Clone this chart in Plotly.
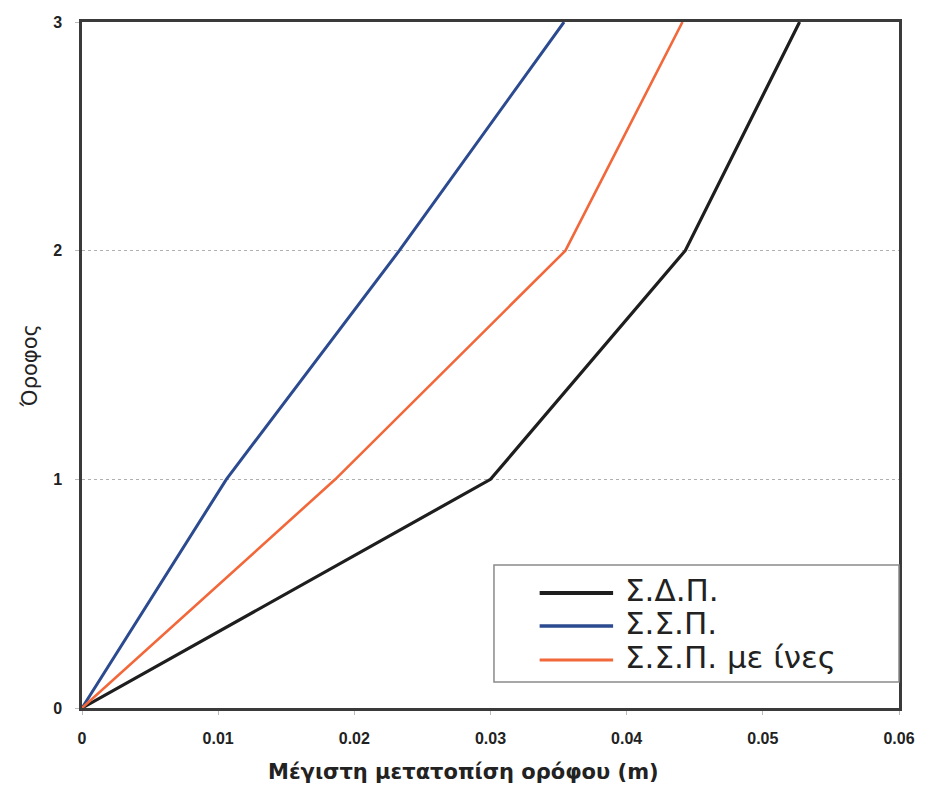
import plotly.graph_objects as go

# Storey levels and peak storey displacement (m) for each structural system
floors = [0, 1, 2, 3]
sdp = [0.0, 0.0300, 0.0443, 0.0527]          # Σ.Δ.Π.
ssp = [0.0, 0.0106, 0.0233, 0.0354]          # Σ.Σ.Π.
ssp_fibres = [0.0, 0.0186, 0.0355, 0.0441]   # Σ.Σ.Π. με ίνες

x_ticks = [0, 0.01, 0.02, 0.03, 0.04, 0.05, 0.06]
x_tick_text = ["0", "0.01", "0.02", "0.03", "0.04", "0.05", "0.06"]
y_ticks = [0, 1, 2, 3]

names = ["Σ.Δ.Π.", "Σ.Σ.Π.", "Σ.Σ.Π. με ίνες"]
colors = ["#1e1e1e", "#2b4a8f", "#f2683a"]
widths = [3.2, 3.0, 2.6]
series = [sdp, ssp, ssp_fibres]

W, H = 927, 788
L, R, T, B = 82, 22, 22, 80
PW, PH = W - L - R, H - T - B


def px(xp):
    return (xp - L) / PW


def py(yp):
    return (H - B - yp) / PH


fig = go.Figure()
for vals, name, c, w in zip(series, names, colors, widths):
    fig.add_trace(go.Scatter(x=vals, y=floors, mode="lines", name=name,
                             line=dict(color=c, width=w), showlegend=False))

tick_font = dict(family="Liberation Sans, Arial", size=16, color="#222", weight="bold")

fig.update_xaxes(range=[0, 0.06], tickvals=x_ticks, ticktext=x_tick_text,
                 showgrid=False, zeroline=False, showline=True, linecolor="#3a3a3a",
                 linewidth=2.5, mirror=True, ticks="outside", ticklen=4,
                 tickcolor="#bbbbbb", tickfont=tick_font, ticklabelstandoff=10)
fig.update_yaxes(range=[0, 3], tickvals=y_ticks, showgrid=True,
                 gridcolor="#b0b0b0", griddash="dot", gridwidth=1,
                 zeroline=False, showline=True, linecolor="#3a3a3a", linewidth=2.5,
                 mirror=True, ticks="outside", ticklen=4, tickcolor="#bbbbbb",
                 tickfont=tick_font, ticklabelstandoff=10)

shapes = []
annotations = []

# Legend box with line samples
shapes.append(dict(type="rect", xref="paper", yref="paper",
                   x0=px(497), x1=px(905), y0=py(682), y1=py(565),
                   line=dict(color="#8a8a8a", width=1.5), fillcolor="white", layer="above"))
row_y = [593, 626, 660]
text_y = [590, 623, 657]
for name, c, w, ly, ty in zip(names, colors, widths, row_y, text_y):
    shapes.append(dict(type="line", xref="paper", yref="paper",
                       x0=px(543), x1=px(617), y0=py(ly), y1=py(ly),
                       line=dict(color=c, width=w + 0.6), layer="above"))
    annotations.append(dict(xref="paper", yref="paper", x=px(627), y=py(ty),
                            xanchor="left", yanchor="middle", showarrow=False,
                            text=name, font=dict(family="DejaVu Sans", size=31, color="#222")))

# Axis titles
annotations.append(dict(xref="paper", yref="paper", x=px(466), y=py(772),
                        xanchor="center", yanchor="middle", showarrow=False,
                        text="Μέγιστη μετατοπίση ορόφου (m)",
                        font=dict(family="DejaVu Sans", size=21,
                                  color="#222", weight="bold")))
annotations.append(dict(xref="paper", yref="paper", x=px(30), y=py(366),
                        xanchor="center", yanchor="middle", showarrow=False,
                        textangle=-90, text="Όροφος",
                        font=dict(family="DejaVu Sans", size=21, color="#222")))

fig.update_layout(width=W, height=H, margin=dict(l=L, r=R, t=T, b=B),
                  paper_bgcolor="white", plot_bgcolor="white",
                  shapes=shapes, annotations=annotations, showlegend=False)

fig.write_html("out.html")
